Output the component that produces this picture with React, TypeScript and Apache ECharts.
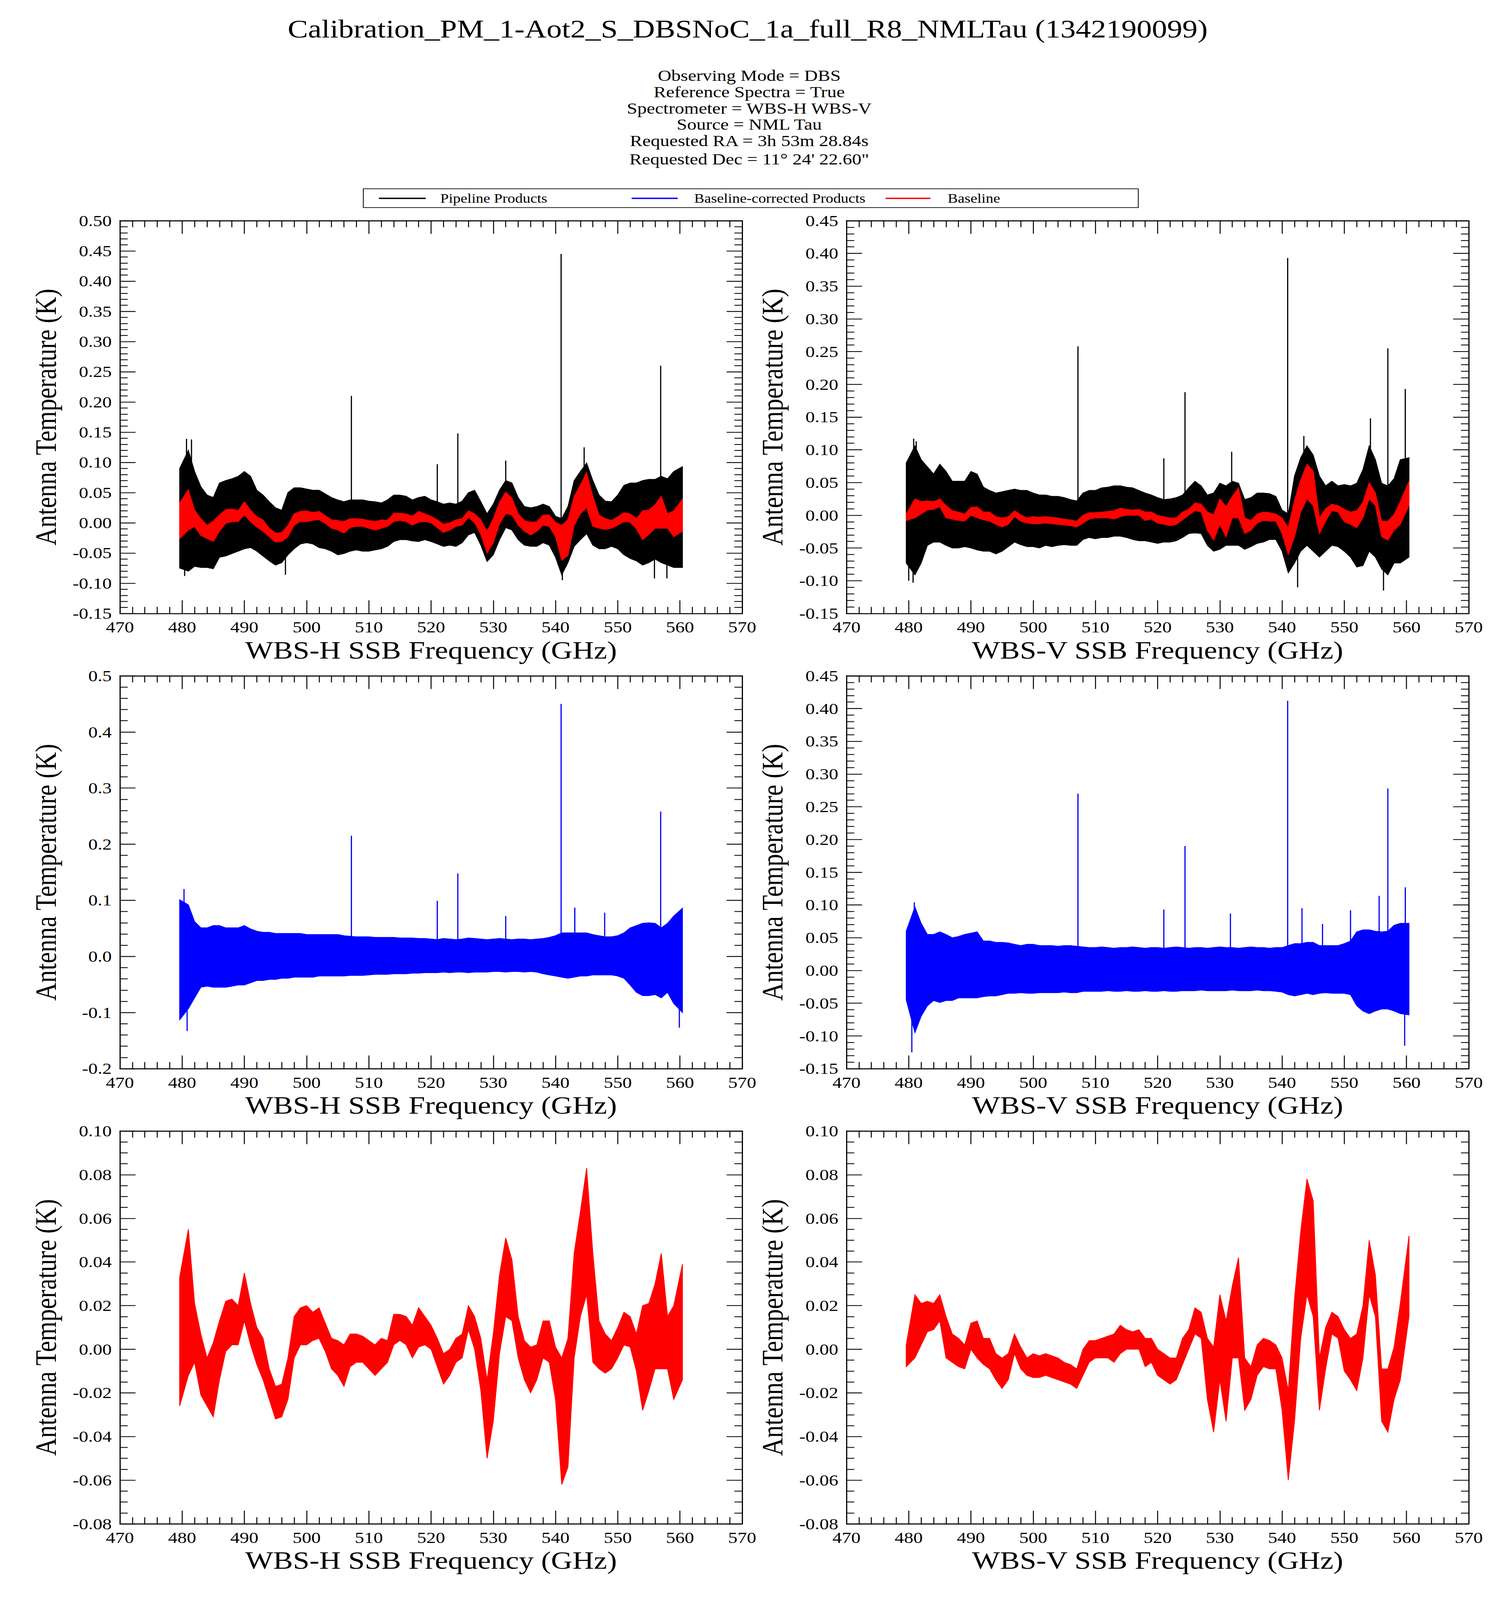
import React, { useEffect, useRef, useState } from "react";
import * as echarts from "echarts";

// ---------------- data ----------------
const FREQ = [
  479.6, 481, 482, 483, 484, 485, 486, 487, 488, 489,
  490, 491, 492, 493, 494, 495, 496, 497, 498, 499,
  500, 501, 502, 503, 504, 505, 506, 507, 508, 509,
  510, 511, 512, 513, 514, 515, 516, 517, 518, 519,
  520, 521, 522, 523, 524, 525, 526, 527, 528, 529,
  530, 531, 532, 533, 534, 535, 536, 537, 538, 539,
  540, 541, 542, 543, 544, 545, 546, 547, 548, 549,
  550, 551, 552, 553, 554, 555, 556, 557, 558, 559,
  560.4,
];

// WBS-H pipeline products (upper / lower envelope)
const H_PIPE_HI = [
  0.090, 0.120, 0.085, 0.060, 0.046, 0.042, 0.066, 0.070, 0.073, 0.077,
  0.085, 0.077, 0.054, 0.046, 0.035, 0.025, 0.021, 0.050, 0.058, 0.058,
  0.056, 0.054, 0.054, 0.048, 0.042, 0.038, 0.035, 0.038, 0.038, 0.038,
  0.036, 0.035, 0.033, 0.038, 0.046, 0.046, 0.044, 0.038, 0.042, 0.044,
  0.038, 0.035, 0.031, 0.033, 0.031, 0.036, 0.050, 0.054, 0.035, 0.015,
  0.031, 0.054, 0.070, 0.066, 0.042, 0.027, 0.025, 0.027, 0.031, 0.027,
  0.011, 0.007, 0.027, 0.070, 0.085, 0.099, 0.070, 0.046, 0.036, 0.035,
  0.046, 0.062, 0.066, 0.066, 0.070, 0.072, 0.072, 0.077, 0.073, 0.085,
  0.093,
];
const H_PIPE_LO = [
  -0.075, -0.080, -0.072, -0.074, -0.074, -0.076, -0.057, -0.055, -0.051, -0.047,
  -0.043, -0.041, -0.047, -0.055, -0.063, -0.070, -0.066, -0.053, -0.043, -0.035,
  -0.033, -0.035, -0.041, -0.043, -0.047, -0.053, -0.051, -0.047, -0.045, -0.047,
  -0.047, -0.045, -0.043, -0.039, -0.031, -0.028, -0.028, -0.030, -0.031, -0.028,
  -0.031, -0.035, -0.039, -0.037, -0.039, -0.033, -0.020, -0.016, -0.037, -0.064,
  -0.053, -0.028, -0.008, -0.012, -0.028, -0.037, -0.039, -0.039, -0.033, -0.037,
  -0.057, -0.086, -0.066, -0.039, -0.028, -0.018, -0.037, -0.043, -0.043, -0.039,
  -0.043, -0.053, -0.059, -0.063, -0.070, -0.066, -0.060, -0.066, -0.070, -0.074,
  -0.074,
];
const H_PIPE_SPIKES = [
  [480.7, 0.139], [481.5, 0.138], [507.2, 0.21], [521.0, 0.097], [524.3, 0.148],
  [532.0, 0.103], [540.9, 0.445], [544.6, 0.125], [556.9, 0.26],
  [480.4, -0.088], [496.6, -0.086], [541.1, -0.095], [555.9, -0.092], [557.9, -0.092],
];

// WBS-H baseline
const H_BASE_HI = [
  0.033, 0.055, 0.021, 0.007, -0.004, 0.003, 0.013, 0.022, 0.023, 0.020,
  0.035, 0.021, 0.010, 0.005, -0.009, -0.017, -0.016, -0.004, 0.015, 0.019,
  0.020, 0.017, 0.019, 0.012, 0.005, 0.004, 0.002, 0.007, 0.007, 0.006,
  0.004, 0.002, 0.005, 0.004, 0.016, 0.016, 0.015, 0.011, 0.019, 0.015,
  0.011, 0.005, -0.002, 0.000, 0.005, 0.007, 0.020, 0.015, 0.005, -0.014,
  0.007, 0.034, 0.051, 0.041, 0.015, 0.004, 0.001, 0.002, 0.013, 0.013,
  0.001, -0.004, 0.005, 0.044, 0.063, 0.083, 0.044, 0.013, 0.007, 0.004,
  0.010, 0.017, 0.015, 0.007, 0.020, 0.021, 0.030, 0.044, 0.015, 0.020,
  0.039,
];
const H_BASE_LO = [
  -0.026, -0.012, -0.006, -0.021, -0.026, -0.031, -0.014, -0.001, 0.002, 0.002,
  0.013, 0.002, -0.007, -0.014, -0.023, -0.032, -0.031, -0.023, -0.004, 0.002,
  0.002, 0.004, 0.005, -0.001, -0.009, -0.012, -0.017, -0.008, -0.006, -0.006,
  -0.009, -0.012, -0.009, -0.006, 0.002, 0.004, 0.002, -0.004, 0.001, 0.002,
  0.000, -0.008, -0.016, -0.012, -0.006, -0.004, 0.009, 0.000, -0.019, -0.050,
  -0.033, -0.002, 0.015, 0.013, -0.004, -0.014, -0.020, -0.014, -0.004, -0.006,
  -0.023, -0.062, -0.054, -0.004, 0.015, 0.025, -0.006, -0.009, -0.011, -0.009,
  -0.004, 0.002, 0.001, -0.010, -0.028, -0.019, -0.009, -0.009, -0.009, -0.023,
  -0.014,
];

// WBS-H baseline-corrected products
const H_CORR_HI = [
  0.101, 0.092, 0.062, 0.051, 0.051, 0.055, 0.055, 0.051, 0.051, 0.051,
  0.055, 0.049, 0.045, 0.043, 0.043, 0.041, 0.041, 0.041, 0.041, 0.041,
  0.039, 0.039, 0.039, 0.039, 0.039, 0.039, 0.037, 0.036, 0.035, 0.035,
  0.035, 0.034, 0.034, 0.034, 0.034, 0.033, 0.033, 0.033, 0.032, 0.032,
  0.031, 0.030, 0.032, 0.031, 0.030, 0.031, 0.033, 0.032, 0.031, 0.030,
  0.031, 0.032, 0.031, 0.030, 0.031, 0.031, 0.030, 0.031, 0.032, 0.034,
  0.037, 0.042, 0.042, 0.042, 0.042, 0.042, 0.039, 0.037, 0.035, 0.035,
  0.037, 0.042, 0.051, 0.055, 0.059, 0.060, 0.059, 0.051, 0.059, 0.072,
  0.086,
];
const H_CORR_LO = [
  -0.113, -0.093, -0.074, -0.055, -0.053, -0.055, -0.055, -0.055, -0.053, -0.051,
  -0.051, -0.047, -0.043, -0.043, -0.041, -0.041, -0.039, -0.039, -0.037, -0.037,
  -0.037, -0.037, -0.035, -0.035, -0.035, -0.035, -0.035, -0.034, -0.034, -0.034,
  -0.033, -0.032, -0.032, -0.032, -0.031, -0.031, -0.031, -0.030, -0.030, -0.029,
  -0.029, -0.029, -0.028, -0.029, -0.028, -0.028, -0.029, -0.028, -0.028, -0.028,
  -0.027, -0.027, -0.028, -0.027, -0.027, -0.028, -0.027, -0.028, -0.031, -0.033,
  -0.035, -0.037, -0.039, -0.037, -0.035, -0.035, -0.033, -0.033, -0.033, -0.033,
  -0.035, -0.039, -0.051, -0.064, -0.070, -0.070, -0.068, -0.074, -0.064, -0.084,
  -0.100,
];
const H_CORR_SPIKES = [
  [480.3, 0.12], [507.2, 0.215], [521.0, 0.099], [524.3, 0.148], [532.0, 0.072],
  [540.9, 0.45], [543.1, 0.087], [547.9, 0.078], [556.9, 0.258],
  [480.8, -0.133], [559.9, -0.127],
];

// WBS-V pipeline products
const V_PIPE_HI = [
  0.080, 0.106, 0.085, 0.074, 0.063, 0.078, 0.067, 0.052, 0.052, 0.052,
  0.067, 0.063, 0.043, 0.038, 0.034, 0.036, 0.038, 0.040, 0.038, 0.038,
  0.034, 0.031, 0.031, 0.029, 0.029, 0.027, 0.024, 0.022, 0.034, 0.038,
  0.038, 0.042, 0.043, 0.045, 0.045, 0.043, 0.042, 0.038, 0.034, 0.031,
  0.027, 0.024, 0.025, 0.027, 0.031, 0.042, 0.052, 0.045, 0.031, 0.034,
  0.049, 0.045, 0.052, 0.049, 0.024, 0.027, 0.034, 0.034, 0.033, 0.029,
  0.008, 0.002, 0.060, 0.088, 0.106, 0.092, 0.060, 0.045, 0.052, 0.045,
  0.047, 0.045, 0.049, 0.070, 0.106, 0.085, 0.049, 0.045, 0.056, 0.085,
  0.088,
];
const V_PIPE_LO = [
  -0.073, -0.091, -0.073, -0.046, -0.041, -0.041, -0.046, -0.050, -0.050, -0.048,
  -0.050, -0.053, -0.055, -0.055, -0.059, -0.055, -0.048, -0.041, -0.045, -0.048,
  -0.048, -0.050, -0.046, -0.048, -0.046, -0.045, -0.046, -0.046, -0.037, -0.034,
  -0.036, -0.034, -0.034, -0.032, -0.032, -0.034, -0.037, -0.039, -0.039, -0.041,
  -0.043, -0.041, -0.041, -0.039, -0.034, -0.028, -0.027, -0.028, -0.046, -0.055,
  -0.052, -0.046, -0.046, -0.046, -0.052, -0.048, -0.043, -0.041, -0.037, -0.037,
  -0.055, -0.088, -0.073, -0.055, -0.046, -0.055, -0.064, -0.055, -0.046, -0.048,
  -0.055, -0.064, -0.079, -0.077, -0.055, -0.064, -0.082, -0.091, -0.073, -0.073,
  -0.064,
];
const V_PIPE_SPIKES = [
  [480.8, 0.117], [481.2, 0.113], [507.2, 0.258], [521.0, 0.087], [524.4, 0.188],
  [531.9, 0.097], [540.9, 0.393], [543.5, 0.121], [554.2, 0.148], [557.0, 0.255],
  [559.8, 0.193], [480.0, -0.1], [480.7, -0.103], [542.5, -0.11], [556.3, -0.115],
];

// WBS-V baseline
const V_BASE_HI = [
  0.002, 0.025, 0.021, 0.022, 0.021, 0.025, 0.015, 0.007, 0.005, 0.002,
  0.012, 0.013, 0.005, 0.005, -0.002, -0.004, -0.002, 0.007, 0.001, -0.004,
  -0.002, -0.003, -0.002, -0.003, -0.004, -0.006, -0.007, -0.009, 0.000, 0.004,
  0.004, 0.005, 0.006, 0.007, 0.011, 0.009, 0.008, 0.009, 0.005, 0.005,
  0.000, -0.002, -0.004, -0.004, 0.005, 0.009, 0.019, 0.017, 0.005, 0.001,
  0.025, 0.013, 0.029, 0.042, -0.004, -0.008, 0.002, 0.005, 0.004, 0.002,
  -0.004, -0.019, 0.023, 0.054, 0.078, 0.068, -0.004, 0.010, 0.017, 0.015,
  0.009, 0.005, 0.007, 0.020, 0.050, 0.034, -0.009, -0.009, 0.001, 0.021,
  0.052,
];
const V_BASE_LO = [
  -0.008, -0.004, 0.002, 0.008, 0.009, 0.013, -0.004, -0.006, -0.008, -0.009,
  0.000, -0.004, -0.007, -0.009, -0.014, -0.018, -0.014, -0.002, -0.009, -0.012,
  -0.013, -0.013, -0.012, -0.013, -0.014, -0.015, -0.016, -0.018, -0.012, -0.006,
  -0.004, -0.004, -0.004, -0.006, -0.002, 0.000, 0.000, 0.000, -0.008, -0.006,
  -0.012, -0.014, -0.016, -0.014, -0.007, 0.000, 0.007, 0.005, -0.023, -0.038,
  -0.014, -0.033, -0.004, -0.004, -0.028, -0.023, -0.012, -0.008, -0.009, -0.009,
  -0.028, -0.060, -0.033, 0.005, 0.025, 0.015, -0.028, -0.009, 0.007, 0.005,
  -0.010, -0.014, -0.019, -0.004, 0.025, 0.015, -0.033, -0.038, -0.023, -0.014,
  0.015,
];

// WBS-V baseline-corrected products
const V_CORR_HI = [
  0.060, 0.097, 0.072, 0.055, 0.055, 0.059, 0.055, 0.050, 0.052, 0.055,
  0.057, 0.059, 0.045, 0.045, 0.043, 0.043, 0.042, 0.040, 0.038, 0.040,
  0.040, 0.038, 0.038, 0.038, 0.037, 0.038, 0.038, 0.037, 0.036, 0.035,
  0.035, 0.036, 0.035, 0.034, 0.035, 0.035, 0.036, 0.035, 0.034, 0.035,
  0.035, 0.034, 0.035, 0.036, 0.035, 0.034, 0.035, 0.035, 0.034, 0.035,
  0.036, 0.035, 0.035, 0.034, 0.035, 0.036, 0.035, 0.035, 0.034, 0.035,
  0.035, 0.038, 0.041, 0.041, 0.043, 0.043, 0.038, 0.038, 0.038, 0.038,
  0.041, 0.045, 0.059, 0.062, 0.062, 0.060, 0.059, 0.060, 0.069, 0.072,
  0.072,
];
const V_CORR_LO = [
  -0.045, -0.095, -0.070, -0.054, -0.046, -0.049, -0.046, -0.046, -0.042, -0.042,
  -0.042, -0.042, -0.040, -0.039, -0.039, -0.037, -0.035, -0.035, -0.034, -0.035,
  -0.035, -0.034, -0.034, -0.034, -0.034, -0.033, -0.034, -0.034, -0.032, -0.032,
  -0.032, -0.032, -0.031, -0.032, -0.032, -0.031, -0.032, -0.032, -0.031, -0.032,
  -0.032, -0.031, -0.032, -0.032, -0.031, -0.031, -0.031, -0.030, -0.031, -0.031,
  -0.031, -0.031, -0.030, -0.031, -0.031, -0.031, -0.030, -0.031, -0.031, -0.032,
  -0.033, -0.037, -0.039, -0.037, -0.035, -0.037, -0.035, -0.034, -0.035, -0.035,
  -0.035, -0.037, -0.054, -0.062, -0.066, -0.062, -0.059, -0.059, -0.062, -0.066,
  -0.068,
];
const V_CORR_SPIKES = [
  [480.9, 0.104], [507.2, 0.27], [521.0, 0.093], [524.4, 0.19], [531.7, 0.087],
  [540.9, 0.412], [543.2, 0.095], [546.5, 0.071], [551.0, 0.092], [555.6, 0.114],
  [557.0, 0.278], [559.8, 0.127], [480.5, -0.125], [559.7, -0.115],
];

// ---------------- texts ----------------
const TITLE = "Calibration_PM_1-Aot2_S_DBSNoC_1a_full_R8_NMLTau (1342190099)";
const SUBTITLE_LINES = [
  "Observing Mode = DBS",
  "Reference Spectra = True",
  "Spectrometer = WBS-H WBS-V",
  "Source = NML Tau",
  "Requested RA = 3h 53m 28.84s",
  "Requested Dec = 11\u00B0 24' 22.60\"",
];
const LEGEND_NAMES = ["Pipeline Products", "Baseline-corrected Products", "Baseline"];
const X_NAMES = ["WBS-H SSB Frequency (GHz)", "WBS-V SSB Frequency (GHz)"];
const Y_NAME = "Antenna Temperature (K)";

// ---------------- layout / style ----------------
const FONT = '"Liberation Serif", "Times New Roman", Times, serif';
const BLACK = "#000000";
const BLUE = "#0000ff";
const RED = "#ff0000";
const PAGE_W = 3840;
const PAGE_H = 4872;
const COL_LEFT = [307, 2167];
const ROW_TOP = [672, 2058, 3444];
const PW = 1593;
const PH = 1196;

type Panel = {
  row: number;
  col: number;
  ymin: number;
  ymax: number;
  yint: number;
  dec: number;
  minorSplit: number;
};

const PANELS: Panel[] = [
  { row: 0, col: 0, ymin: -0.15, ymax: 0.5, yint: 0.05, dec: 2, minorSplit: 5 },
  { row: 0, col: 1, ymin: -0.15, ymax: 0.45, yint: 0.05, dec: 2, minorSplit: 5 },
  { row: 1, col: 0, ymin: -0.2, ymax: 0.5, yint: 0.1, dec: 1, minorSplit: 5 },
  { row: 1, col: 1, ymin: -0.15, ymax: 0.45, yint: 0.05, dec: 2, minorSplit: 5 },
  { row: 2, col: 0, ymin: -0.08, ymax: 0.1, yint: 0.02, dec: 2, minorSplit: 4 },
  { row: 2, col: 1, ymin: -0.08, ymax: 0.1, yint: 0.02, dec: 2, minorSplit: 4 },
];

function bandSeries(p: number, hi: number[], lo: number[], color: string, z: number) {
  return {
    type: "custom",
    xAxisIndex: p * 2,
    yAxisIndex: p * 2,
    silent: true,
    z,
    data: [[520, 0]],
    renderItem: (_params: any, api: any) => {
      const pts: number[][] = [];
      for (let i = 0; i < FREQ.length; i++) pts.push(api.coord([FREQ[i], hi[i]]));
      for (let i = FREQ.length - 1; i >= 0; i--) pts.push(api.coord([FREQ[i], lo[i]]));
      return {
        type: "polygon",
        shape: { points: pts },
        style: { fill: color, stroke: color, lineWidth: 2, lineJoin: "miter" },
      };
    },
  };
}

function spikeSeries(p: number, spikes: number[][], color: string, z: number) {
  return {
    type: "custom",
    xAxisIndex: p * 2,
    yAxisIndex: p * 2,
    silent: true,
    z,
    data: spikes,
    renderItem: (_params: any, api: any) => {
      const f = api.value(0);
      const v = api.value(1);
      const a = api.coord([f, 0]);
      const b = api.coord([f, v]);
      return {
        type: "line",
        shape: { x1: a[0], y1: a[1], x2: b[0], y2: b[1] },
        style: { stroke: color, lineWidth: 3 },
      };
    },
  };
}

function buildOption() {
  const grids: any[] = [];
  const xAxes: any[] = [];
  const yAxes: any[] = [];
  const axisLine = { show: true, onZero: false, lineStyle: { color: BLACK, width: 3 } };
  const tickStyle = { color: BLACK, width: 2.5 };

  PANELS.forEach((pn, i) => {
    grids.push({ left: COL_LEFT[pn.col], top: ROW_TOP[pn.row], width: PW, height: PH, containLabel: false });
    const xBase = {
      type: "value",
      gridIndex: i,
      min: 470,
      max: 570,
      interval: 10,
      axisLine,
      splitLine: { show: false },
      axisTick: { show: true, inside: true, length: 40, lineStyle: tickStyle },
      minorTick: { show: true, splitNumber: 5, length: 20, lineStyle: tickStyle },
    };
    xAxes.push({
      ...xBase,
      position: "bottom",
      name: X_NAMES[pn.col],
      nameLocation: "middle",
      nameGap: 73,
      nameTextStyle: { fontFamily: FONT, fontSize: 76, color: BLACK },
      axisLabel: { show: true, margin: 18, fontFamily: FONT, fontSize: 48, color: BLACK },
    });
    xAxes.push({ ...xBase, position: "top", axisLabel: { show: false } });

    const yBase = {
      type: "value",
      gridIndex: i,
      min: pn.ymin,
      max: pn.ymax,
      interval: pn.yint,
      axisLine,
      splitLine: { show: false },
      axisTick: { show: true, inside: true, length: 40, lineStyle: tickStyle },
      minorTick: { show: true, splitNumber: pn.minorSplit, length: 20, lineStyle: tickStyle },
    };
    yAxes.push({
      ...yBase,
      position: "left",
      name: Y_NAME,
      nameLocation: "middle",
      nameGap: 152,
      nameTextStyle: { fontFamily: FONT, fontSize: 76, color: BLACK },
      axisLabel: {
        show: true,
        margin: 21,
        fontFamily: FONT,
        fontSize: 48,
        color: BLACK,
        formatter: (v: number) => v.toFixed(pn.dec),
      },
    });
    yAxes.push({ ...yBase, position: "right", axisLabel: { show: false } });
  });

  const series: any[] = [
    bandSeries(0, H_PIPE_HI, H_PIPE_LO, BLACK, 2),
    spikeSeries(0, H_PIPE_SPIKES, BLACK, 2),
    bandSeries(0, H_BASE_HI, H_BASE_LO, RED, 3),
    bandSeries(1, V_PIPE_HI, V_PIPE_LO, BLACK, 2),
    spikeSeries(1, V_PIPE_SPIKES, BLACK, 2),
    bandSeries(1, V_BASE_HI, V_BASE_LO, RED, 3),
    bandSeries(2, H_CORR_HI, H_CORR_LO, BLUE, 2),
    spikeSeries(2, H_CORR_SPIKES, BLUE, 2),
    bandSeries(3, V_CORR_HI, V_CORR_LO, BLUE, 2),
    spikeSeries(3, V_CORR_SPIKES, BLUE, 2),
    bandSeries(4, H_BASE_HI, H_BASE_LO, RED, 2),
    bandSeries(5, V_BASE_HI, V_BASE_LO, RED, 2),
  ];

  const subY = [230, 280, 330, 379, 429, 485];
  const graphic: any[] = [
    {
      type: "text",
      x: 1914,
      y: 88,
      style: { text: TITLE, fontFamily: FONT, fontSize: 78, fill: BLACK, align: "center", verticalAlign: "middle" },
    },
    ...SUBTITLE_LINES.map((t, k) => ({
      type: "text",
      x: 1918,
      y: subY[k],
      style: { text: t, fontFamily: FONT, fontSize: 48, fill: BLACK, align: "center", verticalAlign: "middle" },
    })),
    {
      type: "rect",
      shape: { x: 930, y: 575, width: 1984, height: 57 },
      style: { fill: "none", stroke: BLACK, lineWidth: 2 },
    },
  ];
  const legendLines = [
    { x1: 970, x2: 1090, tx: 1127, color: BLACK },
    { x1: 1617, x2: 1735, tx: 1777, color: BLUE },
    { x1: 2267, x2: 2382, tx: 2426, color: RED },
  ];
  legendLines.forEach((l, k) => {
    graphic.push({
      type: "line",
      shape: { x1: l.x1, y1: 604, x2: l.x2, y2: 604 },
      style: { stroke: l.color, lineWidth: 4 },
    });
    graphic.push({
      type: "text",
      x: l.tx,
      y: 604,
      style: { text: LEGEND_NAMES[k], fontFamily: FONT, fontSize: 39, fill: BLACK, align: "left", verticalAlign: "middle" },
    });
  });

  return {
    animation: false,
    backgroundColor: "#ffffff",
    textStyle: { fontFamily: FONT },
    grid: grids,
    xAxis: xAxes,
    yAxis: yAxes,
    series,
    graphic,
  };
}

export default function App() {
  const ref = useRef<HTMLDivElement>(null);
  const [sy, setSy] = useState(1);
  useEffect(() => {
    document.body.style.margin = "0";
    document.documentElement.style.overflow = "hidden";
    // The visible window may be shorter than the 4872px page; fit the whole figure into it.
    const vh = window.innerHeight || PAGE_H;
    setSy(vh > 0 && vh < PAGE_H ? vh / PAGE_H : 1);
    if (!ref.current) return;
    const chart = echarts.init(ref.current, null, { renderer: "svg" });
    chart.setOption(buildOption() as any);
    return () => chart.dispose();
  }, []);
  return (
    <div style={{ width: PAGE_W, height: Math.round(PAGE_H * sy), overflow: "hidden", background: "#ffffff" }}>
      <div
        ref={ref}
        style={{
          width: PAGE_W,
          height: PAGE_H,
          background: "#ffffff",
          transform: `scaleY(${sy})`,
          transformOrigin: "0 0",
        }}
      />
    </div>
  );
}
